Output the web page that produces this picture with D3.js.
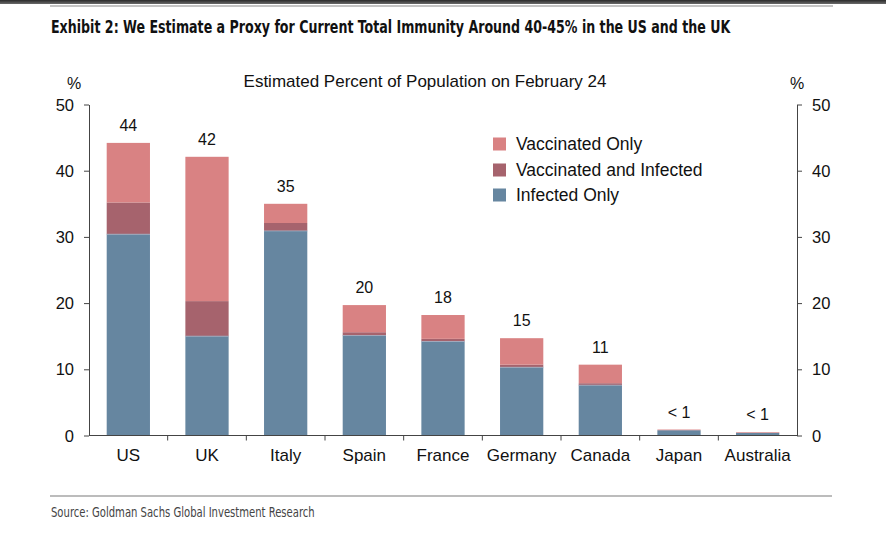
<!DOCTYPE html>
<html><head><meta charset="utf-8">
<script src="https://cdn.jsdelivr.net/npm/d3@7"></script>
<style>
html,body{margin:0;padding:0;background:#fff;}
svg{display:block;}
</style></head>
<body>
<svg id="chart" width="886" height="536"></svg>
<script>
const categories = ["US","UK","Italy","Spain","France","Germany","Canada","Japan","Australia"];
const infectedOnly = [30.4,15.0,30.9,15.1,14.2,10.3,7.6,0.8,0.4];
const vaccAndInfected = [4.8,5.3,1.2,0.5,0.4,0.4,0.3,0.0,0.0];
const vaccOnly = [9.0,21.8,2.9,4.1,3.6,4.0,2.8,0.1,0.1];
const totalLabels = ["44","42","35","20","18","15","11","< 1","< 1"];
const yTicks = [0,10,20,30,40,50];
const seriesNames = ["Vaccinated Only","Vaccinated and Infected","Infected Only"];
const seriesColors = {"Infected Only":"#6686A0","Vaccinated and Infected":"#A6636D","Vaccinated Only":"#D98283"};

const svg = d3.select("#chart");
const F = "'Liberation Sans', Arial, sans-serif";
const NARROW = "'Liberation Sans Narrow', 'DejaVu Sans Condensed', sans-serif";

// fit a text horizontally to a target width using a scale transform
function fitText(g, str, targetW, attrs){
  const t = g.append("text").text(str);
  Object.entries(attrs).forEach(([k,v])=>t.attr(k,v));
  const w = t.node().getComputedTextLength();
  g.attr("transform", g.attr("transform") + ` scale(${Math.min(1,targetW/w)},1)`);
  return t;
}

// top decorations
const grad = svg.append("defs").append("linearGradient").attr("id","topg").attr("x1",0).attr("x2",0).attr("y1",0).attr("y2",1);
grad.append("stop").attr("offset","0%").attr("stop-color","#2a2a2a");
grad.append("stop").attr("offset","100%").attr("stop-color","#6a6a6a");
svg.append("rect").attr("x",0).attr("y",0).attr("width",886).attr("height",4).attr("fill","url(#topg)");
svg.append("line").attr("x1",50).attr("x2",833).attr("y1",6).attr("y2",6).attr("stroke","#8a8a8a").attr("stroke-width",1.2);

const tg = svg.append("g").attr("transform","translate(51,33)");
fitText(tg, "Exhibit 2: We Estimate a Proxy for Current Total Immunity Around 40-45% in the US and the UK", 680,
  {"x":0,"y":0,"font-family":NARROW,"font-weight":"bold","font-size":18,"fill":"#111"});

const x0 = 89, x1 = 797, yTop = 104.5, yBot = 435.5;
const x = d3.scaleBand().domain(categories).range([x0,x1]).paddingInner(0.45).paddingOuter(0.225);
const xTickScale = d3.scaleLinear().domain([0,categories.length]).range([x0,x1]);
const y = d3.scaleLinear().domain([0,50]).range([yBot,yTop]);

const data = categories.map((c,i)=>({cat:c,"Infected Only":infectedOnly[i],"Vaccinated and Infected":vaccAndInfected[i],"Vaccinated Only":vaccOnly[i]}));
const stack = d3.stack().keys(["Infected Only","Vaccinated and Infected","Vaccinated Only"]);
const stacked = stack(data);

svg.append("g").selectAll("g").data(stacked).join("g").attr("fill",d=>seriesColors[d.key])
  .selectAll("rect").data(d=>d).join("rect")
  .attr("x",d=>x(d.data.cat)).attr("width",x.bandwidth())
  .attr("y",d=>y(d[1])).attr("height",d=>Math.max(0,y(d[0])-y(d[1])));

// thin light separators between blue and stacked parts
svg.append("g").selectAll("line").data(data.filter(d=>d["Vaccinated Only"]>0.5)).join("line")
  .attr("x1",d=>x(d.cat)).attr("x2",d=>x(d.cat)+x.bandwidth())
  .attr("y1",d=>y(d["Infected Only"])).attr("y2",d=>y(d["Infected Only"]))
  .attr("stroke","#9fb0c4").attr("stroke-width",0.8);

// value labels
svg.append("g").selectAll("text").data(data).join("text")
  .attr("x",d=>x(d.cat)+x.bandwidth()/2)
  .attr("y",(d,i)=>y(infectedOnly[i]+vaccAndInfected[i]+vaccOnly[i])-12)
  .attr("text-anchor","middle").attr("font-family",F).attr("font-size",16).attr("fill","#111")
  .text((d,i)=>totalLabels[i]);

// left axis
const axisColor = "#444";
const la = svg.append("g").attr("transform",`translate(${x0},0)`)
  .call(d3.axisLeft(y).tickValues(yTicks).tickSize(5).tickPadding(10).tickSizeOuter(0));
la.select(".domain").attr("stroke",axisColor);
la.selectAll(".tick line").attr("stroke",axisColor);
la.selectAll(".tick text").attr("font-family",F).attr("font-size",16.5).attr("fill","#111").attr("dy","0.34em");

const ra = svg.append("g").attr("transform",`translate(${x1},0)`)
  .call(d3.axisRight(y).tickValues(yTicks).tickSize(5).tickPadding(10).tickSizeOuter(0));
ra.select(".domain").attr("stroke",axisColor);
ra.selectAll(".tick line").attr("stroke",axisColor);
ra.selectAll(".tick text").attr("font-family",F).attr("font-size",16.5).attr("fill","#111").attr("dy","0.34em");

// x axis
svg.append("line").attr("x1",x0).attr("x2",x1).attr("y1",yBot).attr("y2",yBot).attr("stroke",axisColor);
svg.append("g").selectAll("line").data(d3.range(1,categories.length)).join("line")
  .attr("x1",d=>xTickScale(d)).attr("x2",d=>xTickScale(d)).attr("y1",yBot).attr("y2",yBot+5).attr("stroke",axisColor);
svg.append("g").selectAll("text").data(categories).join("text")
  .attr("x",d=>x(d)+x.bandwidth()/2).attr("y",461)
  .attr("text-anchor","middle").attr("font-family",F).attr("font-size",17).attr("fill","#111").text(d=>d);

// unit labels & subtitle
svg.append("text").attr("x",74).attr("y",89).attr("text-anchor","middle").attr("font-family",F).attr("font-size",16).attr("fill","#111").text("%");
svg.append("text").attr("x",797).attr("y",89).attr("text-anchor","middle").attr("font-family",F).attr("font-size",16).attr("fill","#111").text("%");
svg.append("text").attr("x",425).attr("y",87).attr("text-anchor","middle").attr("font-family",F).attr("font-size",17).attr("fill","#111").text("Estimated Percent of Population on February 24");

// legend
const lg = svg.append("g").selectAll("g").data(seriesNames).join("g")
  .attr("transform",(d,i)=>`translate(493,${[144,170,195][i]})`);
lg.append("rect").attr("x",0).attr("y",-6.5).attr("width",13).attr("height",13).attr("fill",d=>seriesColors[d]);
lg.append("text").attr("x",23).attr("y",0).attr("dy","0.36em").attr("font-family",F).attr("font-size",17.5).attr("fill","#111").text(d=>d);

// source
svg.append("line").attr("x1",50).attr("x2",832).attr("y1",496).attr("y2",496).attr("stroke","#7a7a7a").attr("stroke-width",1.2);
const sg = svg.append("g").attr("transform","translate(51,517)");
fitText(sg, "Source: Goldman Sachs Global Investment Research", 264,
  {"x":0,"y":0,"font-family":NARROW,"font-size":13.5,"fill":"#444"});
</script>
</body></html>
